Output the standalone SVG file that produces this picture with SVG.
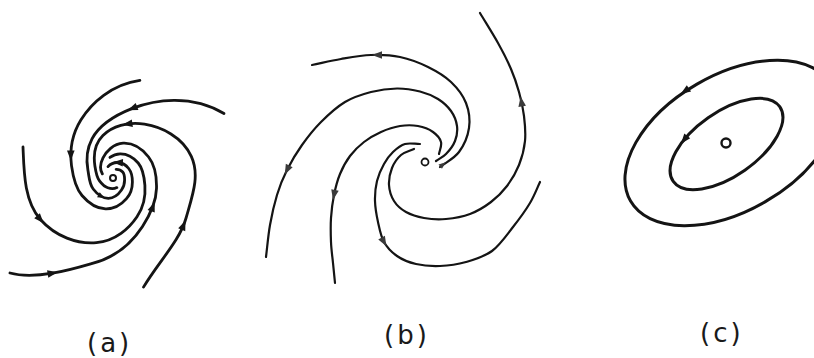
<svg xmlns="http://www.w3.org/2000/svg" width="814" height="358" viewBox="0 0 814 358">
<defs>
<style>
.tr{fill:none;stroke:#141414;stroke-linecap:round;stroke-linejoin:round}
.a{stroke-width:2.8}
.b{stroke-width:2.2}
.c{stroke-width:3}
.ah{fill:#141414}
.ahb{fill:#3a3a3a}
.lbl{font-family:"DejaVu Sans","Liberation Sans",sans-serif;font-size:26px;fill:#1a1a1a;letter-spacing:3px}
</style>
<path id="ah" d="M5,0 L-5,-3.8 L-5,3.8 Z"/>
<path id="ahs" d="M3.5,0 L-3.5,-2.8 L-3.5,2.8 Z"/>
</defs>
<rect width="814" height="358" fill="#ffffff"/>

<g id="panel-a">
  <g id="trajectories-a" class="tr a">
    <path id="a1" d="M139.9,80.4 C111.4,84.5 91.5,103 81,119.8 C70.5,136.6 69.9,153.1 71.5,165.6 C73.2,178.1 75.5,187.9 82,195.5 C88.5,203.1 96.5,208.6 105.5,208.9 C114.5,209.2 121.9,204 126.5,198.7 C131.1,193.4 132.4,187.1 132.4,181.9 C132.4,176.7 131.5,172.1 128.7,168.5 C125.9,164.9 122,162.7 117.9,162.5 C113.8,162.3 110.3,164.1 108,166.6"/>
    <path id="a5" d="M224,113.5 C191,93.7 154.1,99.9 132.4,108.4 C110.7,116.9 98.4,126.7 92,138.9 C85.6,151.1 86.5,162.2 87.9,170 C89.3,177.8 89.3,183.9 93.2,189 C97.1,194.1 102.3,198.2 108.3,198.3 C114.3,198.4 119,193.6 121.5,190 C124,186.4 124.6,182.9 124.6,179.9 C124.6,176.9 124.5,174 122.7,172 C120.9,170 118.3,169.2 116.1,169.3"/>
    <path id="a4" d="M143.5,287.1 C158.5,262.1 179.8,240.4 185.9,218.5 C192,196.6 200.3,175.8 191.3,156.3 C182.3,136.8 161.6,126.9 144.5,124.2 C127.4,121.5 112.2,126.3 102.9,135.5 C93.6,144.7 93.8,158.6 94.9,166 C96,173.4 96.9,177.5 99.5,180.9 C102.1,184.3 104.55,186.7 107.75,187.8 C110.95,188.9 114.2,188.9 116.85,187.6"/>
    <path id="a3" d="M10,273 C35,280 71.7,269.5 90.7,263.9 C117.1,257.5 133.25,240.6 142.5,226.4 C151.75,212.2 156.2,200.4 156.5,188.4 C156.8,176.4 155.2,165.4 148.6,157 C142,148.6 132.8,142.7 123.1,143.2 C113.4,143.7 106.1,151.7 103,157.9 C99.9,164.1 100,170 102.4,173.9"/>
    <path id="a2" d="M23,147 C24,172 24.1,201.1 40.4,219.5 C55.7,236.7 77.3,244.3 96.4,242.7 C115.5,241.1 129.4,228.1 137,216.8 C144.6,205.5 145.6,194.3 144.9,185.3 C144.2,176.3 143.1,168.8 138.2,163 C133.3,157.2 126.8,153.7 120.2,153.8 C116.24,153.86 112.71,155.36 109.94,157.48"/>
  </g>
  <circle id="origin-a" cx="113" cy="178" r="3" class="tr" stroke-width="2"/>
  <g id="arrows-a" class="ah">
    <use href="#ah" transform="translate(70.8,155.5) rotate(90)"/>
    <use href="#ah" transform="translate(132.4,108.4) rotate(158.7)"/>
    <use href="#ah" transform="translate(183.6,225.1) rotate(-68)"/>
    <use href="#ah" transform="translate(127.4,124) rotate(172)"/>
    <use href="#ah" transform="translate(52.6,273.2) rotate(-9.5)"/>
    <use href="#ah" transform="translate(152.9,206.6) rotate(-69.7)"/>
    <use href="#ah" transform="translate(40.4,219.5) rotate(48)"/>
    <use href="#ah" transform="translate(117.9,162.5) rotate(183)"/>
    <use href="#ahs" transform="translate(101.5,196.4) rotate(28)"/>
  </g>
</g>

<g id="panel-b">
  <g id="trajectories-b" class="tr b">
    <path id="b1" d="M440,167 C446.3,162 454.2,158.5 459,152 C463.8,145.5 467.8,136.2 469,128 C470.2,119.8 469,110.7 466,103 C463,95.3 457.3,88 451,82 C444.7,76 436.5,71.2 428,67 C419.5,62.8 409.5,59 400,57 C390.5,55 380.8,54.7 371,55 C361.2,55.3 350.8,57.3 341,59 C331.2,60.7 321.7,63 312,65"/>
    <path id="b2" d="M436,161 C439.3,158.7 442.8,157.3 446,154 C449.2,150.7 453.2,145.7 455,141 C456.8,136.3 457.7,131 457,126 C456.3,121 454.2,115.5 451,111 C447.8,106.5 443.2,102.3 438,99 C432.8,95.8 426.8,93.3 420,91.5 C413.2,89.8 405.2,88.4 397,88.5 C388.8,88.6 379.7,89.8 371,92 C362.3,94.3 353.3,97 345,102 C336.7,107 328.2,114.8 321,122 C313.8,129.2 307.7,137 302,145 C296.3,153 291.2,161.7 287,170 C282.8,178.3 279.8,185.8 277,195 C274.2,204.2 271.8,214.7 270,225 C268.2,235.3 267.3,246.3 266,257"/>
    <path id="b3" d="M439,154 C439.7,150 442,145.7 441,142 C440,138.3 436.8,134.7 433,132 C429.2,129.3 423.5,127 418,126 C412.5,125 406.2,125 400,126 C393.8,127 387,129.3 381,132 C375,134.7 369.2,138 364,142 C358.8,146 354,150.7 350,156 C346,161.3 342.7,167.5 340,174 C337.3,180.5 335.5,187.7 334,195 C332.5,202.3 331.5,210.2 331,218 C330.5,225.8 330.7,234.5 331,242 C331.3,249.5 332.3,256.2 333,263 C333.7,269.8 334.3,276.3 335,283"/>
    <path id="b4" d="M420,144 C415,144 409.5,142.7 405,144 C400.5,145.3 396.5,148.7 393,152 C389.5,155.3 386.7,159.2 384,164 C381.3,168.8 378.5,174.8 377,181 C375.5,187.2 374.8,194.2 375,201 C375.2,207.8 376.5,215.2 378,222 C379.5,228.8 380.8,236.3 384,242 C387.2,247.7 391.7,252.3 397,256 C402.3,259.7 408.8,262.3 416,264 C423.2,265.7 431.7,266.3 440,266 C448.3,265.7 457.3,264.5 466,262 C474.7,259.5 484.2,256.8 492,251 C499.8,245.2 506.7,235 513,227 C519.3,219 525.5,210.5 530,203 C534.5,195.5 536.7,189 540,182"/>
    <path id="b5" d="M414,149 C409.7,151 404.7,151.8 401,155 C397.3,158.2 394,163 392,168 C390,173 388.7,179.5 389,185 C389.3,190.5 391.2,196.5 394,201 C396.8,205.5 401,209.2 406,212 C411,214.8 417.3,216.8 424,218 C430.7,219.2 438.3,219.7 446,219 C453.7,218.3 462.5,216.8 470,214 C477.5,211.2 484.8,206.7 491,202 C497.2,197.3 502.3,192.2 507,186 C511.7,179.8 516,172.5 519,165 C522,157.5 524.2,149.2 525,141 C525.8,132.8 525,124.2 524,116 C523,107.8 521.2,99.8 519,92 C516.8,84.2 514.5,77.2 511,69 C507.5,60.8 503.2,52.3 498,43 C492.8,33.7 486,23 480,13"/>
  </g>
  <circle id="origin-b" cx="425" cy="162" r="3.5" class="tr" stroke-width="1.8"/>
  <g id="arrows-b" class="ahb">
    <use href="#ah" transform="translate(377,55) rotate(180)"/>
    <use href="#ah" transform="translate(287,170) rotate(116.6)"/>
    <use href="#ah" transform="translate(334,195) rotate(101.6)"/>
    <use href="#ah" transform="translate(384,242) rotate(60.8)"/>
    <use href="#ah" transform="translate(521.4,101.4) rotate(-99)"/>
    <use href="#ahs" transform="translate(443,164.5) rotate(-38)"/>
  </g>
</g>

<g id="panel-c">
  <g id="orbits-c" class="tr c">
    <ellipse id="c-outer" cx="731" cy="143" rx="116" ry="68" transform="rotate(-30 731 143)"/>
    <ellipse id="c-inner" cx="726.5" cy="144" rx="65" ry="32" transform="rotate(-35 726.5 144)"/>
  </g>
  <circle id="origin-c" cx="726" cy="143" r="4.5" class="tr" stroke-width="2.4"/>
  <g id="arrows-c" class="ah">
    <use href="#ah" transform="translate(684.8,91.1) rotate(146)"/>
    <use href="#ah" transform="translate(684.1,139.8) rotate(129)"/>
  </g>
</g>

<g id="labels">
  <text class="lbl" x="87" y="352">(a)</text>
  <text class="lbl" x="384" y="344">(b)</text>
  <text class="lbl" x="700" y="342">(c)</text>
</g>
</svg>
